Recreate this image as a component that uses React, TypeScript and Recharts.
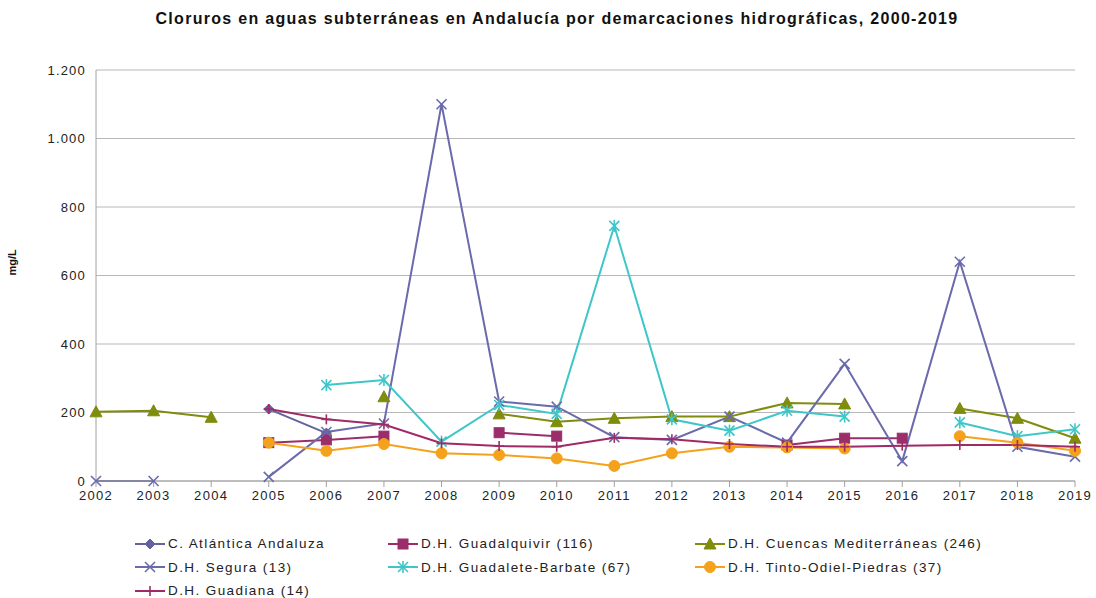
import React from 'react';
import { LineChart, Line, XAxis, YAxis, CartesianGrid, Legend } from 'recharts';

const years = ['2002','2003','2004','2005','2006','2007','2008','2009','2010','2011','2012','2013','2014','2015','2016','2017','2018','2019'];
const atlantica = [null,null,null,210,140,null,null,null,null,null,null,null,null,null,null,null,null,null];
const guadalquivir = [null,null,null,112,120,131,null,141,131,null,null,null,105,125,125,null,null,null];
const cuencas = [202,205,186,null,null,246,null,196,173,183,188,188,228,225,null,212,183,125];
const segura = [0,0,null,12,143,168,1100,232,217,128,120,188,112,342,58,640,100,71];
const guadalete = [null,null,null,null,280,295,115,222,196,745,180,147,205,188,null,171,131,151];
const tinto = [null,null,null,112,88,108,81,76,66,44,81,100,98,95,null,131,112,88];
const guadiana = [null,null,null,210,180,165,110,102,100,126,122,108,100,100,103,105,105,100];
const yTicks = [0, 200, 400, 600, 800, 1000, 1200];

type Shape = 'diamond' | 'square' | 'triangle' | 'x' | 'star' | 'circle' | 'plus';

const seriesDefs: { key: string; name: string; color: string; shape: Shape; values: (number | null)[] }[] = [
  { key: 'atl', name: 'C. Atlántica Andaluza', color: '#62629f', shape: 'diamond', values: atlantica },
  { key: 'gq', name: 'D.H. Guadalquivir (116)', color: '#9b2d6b', shape: 'square', values: guadalquivir },
  { key: 'cm', name: 'D.H. Cuencas Mediterráneas (246)', color: '#7f8c0c', shape: 'triangle', values: cuencas },
  { key: 'seg', name: 'D.H. Segura (13)', color: '#6a6aac', shape: 'x', values: segura },
  { key: 'gb', name: 'D.H. Guadalete-Barbate (67)', color: '#3ec6c8', shape: 'star', values: guadalete },
  { key: 'tinto', name: 'D.H. Tinto-Odiel-Piedras (37)', color: '#f4a21c', shape: 'circle', values: tinto },
  { key: 'gd', name: 'D.H. Guadiana (14)', color: '#a02a66', shape: 'plus', values: guadiana },
];

const data = years.map((y, i) => {
  const row: Record<string, any> = { year: y };
  seriesDefs.forEach((s) => { row[s.key] = s.values[i]; });
  return row;
});

function Marker({ cx, cy, shape, color }: { cx: number; cy: number; shape: Shape; color: string }) {
  const r = 5;
  switch (shape) {
    case 'diamond':
      return <polygon points={`${cx},${cy - r} ${cx + r},${cy} ${cx},${cy + r} ${cx - r},${cy}`} fill={color} stroke={color} />;
    case 'square':
      return <rect x={cx - r} y={cy - r} width={2 * r} height={2 * r} fill={color} stroke={color} />;
    case 'triangle':
      return <polygon points={`${cx},${cy - r - 1} ${cx + r + 1},${cy + r} ${cx - r - 1},${cy + r}`} fill={color} stroke={color} />;
    case 'x':
      return (
        <g stroke={color} strokeWidth={1.6}>
          <line x1={cx - r} y1={cy - r} x2={cx + r} y2={cy + r} />
          <line x1={cx - r} y1={cy + r} x2={cx + r} y2={cy - r} />
        </g>
      );
    case 'star':
      return (
        <g stroke={color} strokeWidth={1.6}>
          <line x1={cx - r} y1={cy - r} x2={cx + r} y2={cy + r} />
          <line x1={cx - r} y1={cy + r} x2={cx + r} y2={cy - r} />
          <line x1={cx} y1={cy - r - 1} x2={cx} y2={cy + r + 1} />
        </g>
      );
    case 'circle':
      return <circle cx={cx} cy={cy} r={r + 0.5} fill={color} stroke={color} />;
    case 'plus':
      return (
        <g stroke={color} strokeWidth={1.6}>
          <line x1={cx - r} y1={cy} x2={cx + r} y2={cy} />
          <line x1={cx} y1={cy - r} x2={cx} y2={cy + r} />
        </g>
      );
  }
  return null;
}

const makeDot = (shape: Shape, color: string) => (props: any) => {
  const { cx, cy, value, index } = props;
  if (value === null || value === undefined || cy === null || cy === undefined || isNaN(cy)) {
    return <g key={`e-${index}`} />;
  }
  return <g key={`d-${index}`}><Marker cx={cx} cy={cy} shape={shape} color={color} /></g>;
};

const legendCols = [135, 388, 695];

function LegendContent() {
  return (
    <div style={{ position: 'relative', width: 1096, height: 87, fontFamily: 'Liberation Sans, Arial, sans-serif', fontSize: 13.5, letterSpacing: 1.4, color: '#222' }}>
      {seriesDefs.map((s, i) => {
        const col = i % 3;
        const row = Math.floor(i / 3);
        return (
          <div key={s.key} style={{ position: 'absolute', left: legendCols[col], top: 21 + row * 23.5, height: 23, display: 'flex', alignItems: 'center', whiteSpace: 'nowrap' }}>
            <svg width={30} height={14} style={{ marginRight: 3 }}>
              <line x1={0} y1={7} x2={30} y2={7} stroke={s.color} strokeWidth={2} />
              <Marker cx={15} cy={7} shape={s.shape} color={s.color} />
            </svg>
            <span>{s.name}</span>
          </div>
        );
      })}
    </div>
  );
}

const fmt = (v: number) => v.toLocaleString('de-DE');

export default function App() {
  return (
    <div style={{ position: 'absolute', left: 0, top: 0, width: 1096, height: 598, background: '#fff', fontFamily: 'Liberation Sans, Arial, sans-serif' }}>
      <div style={{ position: 'absolute', left: 0, top: 10, width: 1114, textAlign: 'center', fontWeight: 'bold', fontSize: 16, letterSpacing: 1.3, color: '#111' }}>
        Cloruros en aguas subterráneas en Andalucía por demarcaciones hidrográficas, 2000-2019
      </div>
      <div style={{ position: 'absolute', left: 0, top: 0 }}>
        <LineChart width={1096} height={598} data={data} margin={{ top: 70, right: 21, bottom: 0, left: 0 }}>
          <CartesianGrid vertical={false} stroke="#b8b8b8" strokeWidth={1.2} />
          <XAxis dataKey="year" height={30} stroke="#a0a0a0" tickLine={{ stroke: '#a0a0a0' }} tickSize={6} tickMargin={4}
            tick={{ fill: '#222', fontSize: 13, letterSpacing: 1.3 }} interval={0} />
          <YAxis width={96} domain={[0, 1200]} ticks={yTicks} tickFormatter={fmt} stroke="#a0a0a0" tickLine={false} tickMargin={4}
            tick={{ fill: '#222', fontSize: 13, letterSpacing: 1.2 }}
            label={{ value: 'mg/L', angle: -90, position: 'insideLeft', offset: 12, style: { fontWeight: 'bold', fontSize: 11, fill: '#111' } }} />
          <Legend verticalAlign="bottom" content={() => <LegendContent />} wrapperStyle={{ left: 0, width: 1096, height: 87 }} />
          {seriesDefs.map((s) => (
            <Line key={s.key} dataKey={s.key} name={s.name} stroke={s.color} strokeWidth={2}
              dot={makeDot(s.shape, s.color)} activeDot={false} isAnimationActive={false} connectNulls={false} />
          ))}
        </LineChart>
      </div>
    </div>
  );
}
